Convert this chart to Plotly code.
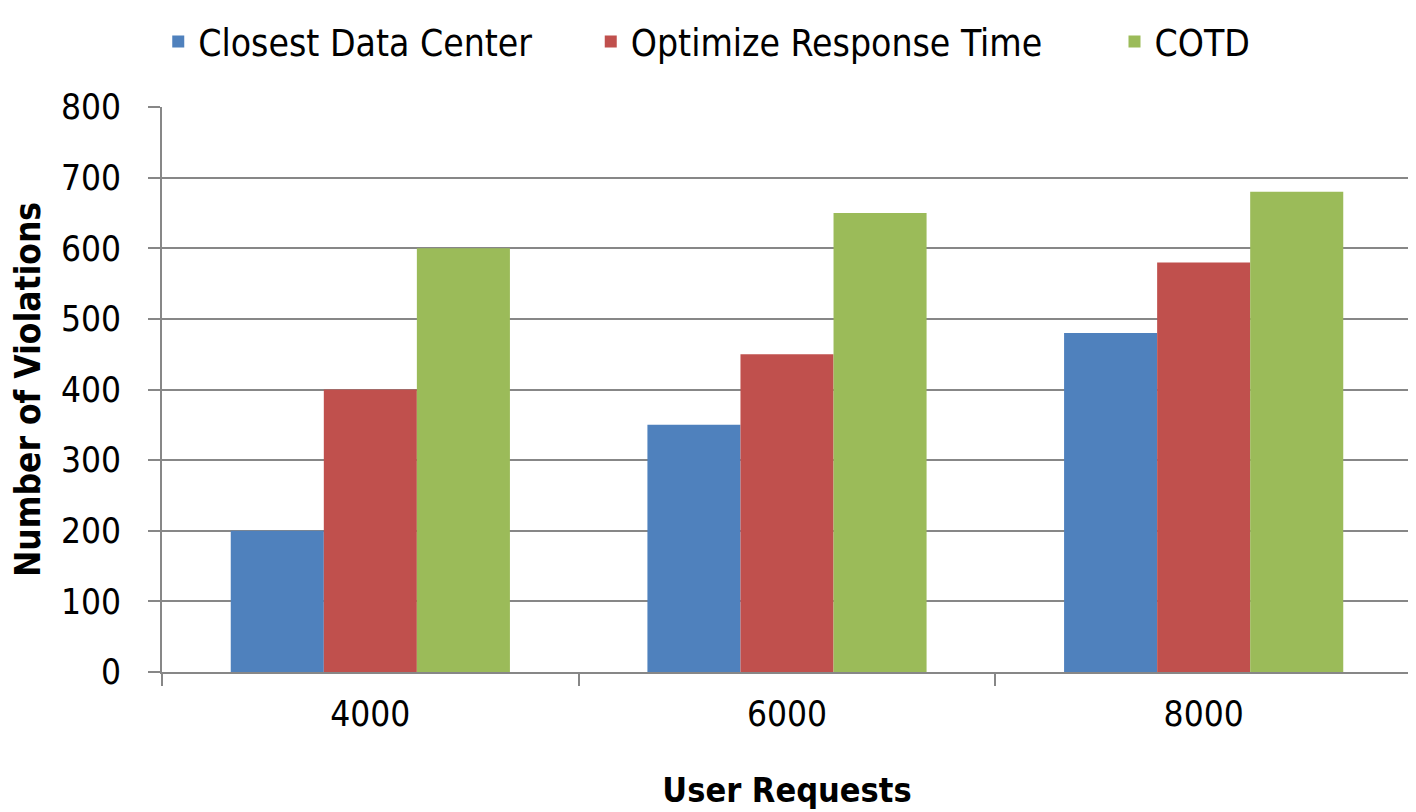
import plotly.graph_objects as go

categories = ["4000", "6000", "8000"]
closest_dc = [200, 350, 480]
optimize_rt = [400, 450, 580]
cotd = [600, 650, 680]
y_ticks = [0, 100, 200, 300, 400, 500, 600, 700, 800]

FONT = "DejaVu Sans Condensed, Liberation Sans Narrow, sans-serif"
GRID = "#878787"

fig = go.Figure()
series = [("Closest Data Center", closest_dc, "#4f81bd", "legend", -0.003),
          ("Optimize Response Time", optimize_rt, "#c0504d", "legend2", 0.343),
          ("COTD", cotd, "#9bbb59", "legend3", 0.762)]
for name, vals, col, leg, _ in series:
    fig.add_trace(go.Bar(x=categories, y=vals, name=name, legend=leg,
                         marker=dict(color=col, line=dict(width=0))))

# page body adds 8px offset, so the figure is sized/margined to compensate
fig.update_layout(
    width=1408, height=804,
    margin=dict(l=154, r=4, t=98, b=140),
    paper_bgcolor="white", plot_bgcolor="white",
    font=dict(family=FONT, size=35, color="black"),
    barmode="group", bargap=0.33, bargroupgap=0,
    showlegend=True,
)
# one legend per series so the entries sit where the original has them
for name, vals, col, leg, xpos in series:
    fig.update_layout({leg: dict(orientation="h", x=xpos, xanchor="left", y=1.168, yanchor="top",
                                 font=dict(size=37), itemwidth=30, bgcolor="rgba(0,0,0,0)")})
fig.update_yaxes(range=[0, 800], tickvals=y_ticks, showgrid=True, gridcolor=GRID, gridwidth=2,
                 showline=True, linecolor=GRID, linewidth=2, ticks="outside", ticklen=12,
                 tickcolor=GRID, tickwidth=2, zeroline=False, automargin=False,
                 ticklabelstandoff=20, tickfont=dict(size=35),
                 title=dict(text="<b>Number of Violations</b>", font=dict(size=35), standoff=16))
fig.update_xaxes(showline=True, linecolor=GRID, linewidth=2, ticks="outside", ticklen=12,
                 tickcolor=GRID, tickwidth=2, tickson="boundaries", automargin=False,
                 ticklabelstandoff=10, tickfont=dict(size=35),
                 title=dict(text="<b>User Requests</b>", font=dict(size=34), standoff=45))

fig.write_html("out.html")
